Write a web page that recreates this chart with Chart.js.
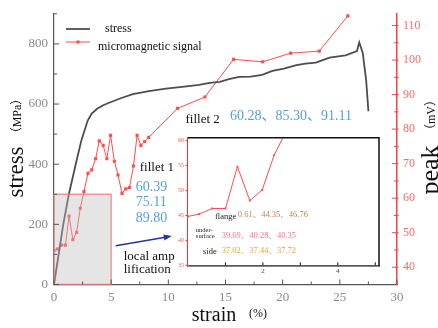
<!DOCTYPE html>
<html>
<head>
<meta charset="utf-8">
<script src="https://cdn.jsdelivr.net/npm/chart.js@4/dist/chart.umd.min.js"></script>
<style>
body{margin:0;background:#fff;}
#wrap{position:relative;width:438px;height:328px;}
#main{position:absolute;left:0;top:0;}
#inset{position:absolute;left:160px;top:128px;}
</style>
</head>
<body>
<div id="wrap">
<canvas id="main" width="438" height="328"></canvas>
<canvas id="inset" width="225" height="150"></canvas>
</div>
<script>
// stress-strain curve
const stressStrain = [0, 0.81, 1.3, 1.9, 2.4, 2.95, 3.3, 3.77, 4.3, 4.93, 5.9, 6.9, 8.3, 9.8, 11.2, 12.7, 13.6, 14.5, 15.3, 16.2, 17.2, 18.2, 19.1, 20.1, 21.2, 22.0, 22.9, 23.5, 24.1, 25.5, 26.5, 26.7, 27.0, 27.3, 27.5];
const stressMPa = [0, 200, 300, 400, 480, 545, 568, 584, 596, 606, 620, 633, 643, 651, 657, 664, 670, 674, 683, 690, 691, 697, 710, 718, 729, 734, 738, 746, 754, 762, 776, 805, 771, 680, 576];

// micromagnetic signal peak
const signalStrain = [0, 0.3, 0.65, 1.0, 1.32, 1.65, 1.98, 2.3, 2.62, 2.97, 3.3, 3.64, 3.96, 4.3, 4.62, 4.95, 5.28, 5.6, 5.95, 6.28, 6.6, 6.95, 7.27, 7.6, 7.93, 8.28, 10.8, 13.2, 15.7, 18.25, 20.7, 23.2, 25.7];
const signalPeak = [44.8, 45.3, 46.4, 46.4, 54.8, 48.0, 50.1, 57.1, 61.9, 67.2, 68.2, 71.4, 76.6, 75.3, 71.4, 78.2, 70.7, 66.7, 61.4, 62.7, 63.1, 69.3, 78.2, 75.3, 76.4, 77.6, 86.0, 89.3, 100.2, 99.5, 102.0, 102.6, 112.8];

const strainTicks = [0, 5, 10, 15, 20, 25, 30];
const strainMinor = [2.5, 7.5, 12.5, 17.5, 22.5, 27.5];
const stressTicks = [0, 200, 400, 600, 800];
const stressMinor = [100, 300, 500, 700, 900];
const peakTicks = [40, 50, 60, 70, 80, 90, 100, 110];
const peakMinor = [45, 55, 65, 75, 85, 95, 105];
const insetStrainTicks = [2, 4];
const insetStrainMarks = [1, 2, 3, 4, 5];
const insetPeakTicks = [35, 40, 45, 50, 55, 60];

const fillet1Values = ['60.39', '75.11', '89.80'];
const fillet2Values = '60.28、85.30、91.11';
const flangeValues = '0.61、44.35、46.76';
const underValues = '39.69、40.28、40.35';
const sideValues = '37.02、37.44、37.72';

const serif = "'Liberation Serif', 'Noto Sans CJK SC', serif";
const RED = '#ff4d4d';
const BLUE = '#559fdc';

function tickMarks(chart, id, values, len) {
  const s = chart.scales[id], a = chart.chartArea, ctx = chart.ctx;
  ctx.save();
  ctx.strokeStyle = s.options.border.color;
  ctx.lineWidth = 1;
  ctx.beginPath();
  values.forEach(v => {
    const p = s.getPixelForValue(v);
    if (s.isHorizontal()) { ctx.moveTo(p, a.bottom); ctx.lineTo(p, a.bottom - len); }
    else if (s.position === 'left') { ctx.moveTo(a.left, p); ctx.lineTo(a.left + len, p); }
    else { ctx.moveTo(a.right + 1.5, p); ctx.lineTo(a.right - len, p); }
  });
  ctx.stroke();
  ctx.restore();
}

function note(ctx, text, x, y, font, color, align) {
  ctx.font = font;
  ctx.fillStyle = color;
  ctx.textAlign = align || 'left';
  ctx.textBaseline = 'middle';
  ctx.fillText(text, x, y);
}

function vtext(ctx, text, x, y, font, color) {
  ctx.save();
  ctx.translate(x, y);
  ctx.rotate(-Math.PI / 2);
  ctx.font = font;
  ctx.fillStyle = color;
  ctx.textAlign = 'center';
  ctx.textBaseline = 'alphabetic';
  ctx.fillText(text, 0, 0);
  ctx.restore();
}

const mainDecor = {
  id: 'mainDecor',
  afterDatasetsDraw(chart) {
    const ctx = chart.ctx, x = chart.scales.x, y = chart.scales.y;
    // local amplification box
    const x0 = x.getPixelForValue(0), x1 = x.getPixelForValue(5);
    const y0 = y.getPixelForValue(0), y1 = y.getPixelForValue(300);
    ctx.save();
    ctx.fillStyle = 'rgba(190,190,190,0.4)';
    ctx.fillRect(x0, y1, x1 - x0, y0 - y1);
    ctx.strokeStyle = 'rgba(240,120,120,0.75)';
    ctx.lineWidth = 1.5;
    ctx.strokeRect(x0, y1, x1 - x0, y0 - y1);

    tickMarks(chart, 'x', strainTicks, 5);
    tickMarks(chart, 'x', strainMinor, 3);
    tickMarks(chart, 'y', stressTicks, 5);
    tickMarks(chart, 'y', stressMinor, 3);
    tickMarks(chart, 'y1', peakTicks, 5);
    tickMarks(chart, 'y1', peakMinor, 3);

    const big = '13px ' + serif, num = '14px ' + serif;
    note(ctx, 'fillet 2', x.getPixelForValue(11.5), y.getPixelForValue(549), big, '#111');
    note(ctx, fillet2Values, x.getPixelForValue(15.4), y.getPixelForValue(560), num, BLUE);
    note(ctx, 'fillet 1', x.getPixelForValue(7.5), y.getPixelForValue(390), big, '#111');
    [322, 272, 220].forEach((s, i) =>
      note(ctx, fillet1Values[i], x.getPixelForValue(7.15), y.getPixelForValue(s), num, BLUE));
    note(ctx, 'local amp', x.getPixelForValue(6.1), y.getPixelForValue(93), big, '#111');
    note(ctx, 'lification', x.getPixelForValue(6.1), y.getPixelForValue(49), big, '#111');

    // arrow towards inset
    const ax = x.getPixelForValue(5.4), ay = y.getPixelForValue(129);
    const bx = x.getPixelForValue(10.3), by = y.getPixelForValue(161);
    const ang = Math.atan2(by - ay, bx - ax);
    ctx.strokeStyle = '#2535a8';
    ctx.fillStyle = '#2535a8';
    ctx.lineWidth = 1.6;
    ctx.beginPath(); ctx.moveTo(ax, ay); ctx.lineTo(bx - 5 * Math.cos(ang), by - 5 * Math.sin(ang)); ctx.stroke();
    ctx.beginPath();
    ctx.moveTo(bx, by);
    ctx.lineTo(bx - 8 * Math.cos(ang) + 3 * Math.sin(ang), by - 8 * Math.sin(ang) - 3 * Math.cos(ang));
    ctx.lineTo(bx - 8 * Math.cos(ang) - 3 * Math.sin(ang), by - 8 * Math.sin(ang) + 3 * Math.cos(ang));
    ctx.closePath(); ctx.fill();

    // legend
    ctx.lineWidth = 1.8; ctx.strokeStyle = '#4d4d4d';
    ctx.beginPath(); ctx.moveTo(66, 29); ctx.lineTo(90, 29); ctx.stroke();
    note(ctx, 'stress', 105, 29, '12px ' + serif, '#111');
    ctx.lineWidth = 1; ctx.strokeStyle = RED; ctx.fillStyle = RED;
    ctx.beginPath(); ctx.moveTo(66, 42); ctx.lineTo(90, 42); ctx.stroke();
    ctx.fillRect(76.5, 40.5, 3, 3);
    note(ctx, 'micromagnetic signal', 98, 47, '12px ' + serif, '#111');
    ctx.restore();
  },
  afterDraw(chart) {
    const ctx = chart.ctx;
    vtext(ctx, 'stress', 23, 172, '23px ' + serif, '#111');
    vtext(ctx, '（MPa）', 21, 116, '12px ' + serif, '#111');
    vtext(ctx, 'peak', 438, 170, '26px ' + serif, '#111');
    vtext(ctx, '（mV）', 435, 115, '12px ' + serif, '#111');
    ctx.save();
    note(ctx, 'strain', 214, 316, '20px ' + serif, '#111', 'center');
    note(ctx, '(%)', 258, 314, '12px ' + serif, '#111', 'center');
    ctx.restore();
  }
};

new Chart(document.getElementById('main'), {
  type: 'line',
  data: {
    datasets: [
      {
        label: 'stress',
        data: stressStrain.map((v, i) => ({ x: v, y: stressMPa[i] })),
        yAxisID: 'y',
        borderColor: '#4d4d4d',
        borderWidth: 1.8,
        pointRadius: 0,
        tension: 0
      },
      {
        label: 'micromagnetic signal',
        data: signalStrain.map((v, i) => ({ x: v, y: signalPeak[i] })),
        yAxisID: 'y1',
        borderColor: RED,
        backgroundColor: RED,
        borderWidth: 1,
        pointStyle: 'rect',
        pointRadius: 2.2,
        pointBorderWidth: 0
      }
    ]
  },
  options: {
    responsive: false,
    animation: false,
    devicePixelRatio: 1,
    layout: { padding: { top: 7, right: 0, left: 0, bottom: 0 } },
    plugins: { legend: { display: false }, tooltip: { enabled: false } },
    scales: {
      x: {
        type: 'linear', min: 0, max: 30,
        afterBuildTicks: s => { s.ticks = strainTicks.map(v => ({ value: v })); },
        afterFit: s => { s.height = 43.5; },
        grid: { display: false, drawTicks: false },
        border: { color: '#555', width: 1.2 },
        ticks: { color: '#8a8a8a', font: { family: serif, size: 13 }, padding: 5, maxRotation: 0 }
      },
      y: {
        position: 'left', min: 0, max: 900,
        afterBuildTicks: s => { s.ticks = stressTicks.map(v => ({ value: v })); },
        afterFit: s => { s.width = 54; },
        grid: { display: false, drawTicks: false },
        border: { color: '#555', width: 1.2 },
        ticks: { color: '#8a8a8a', font: { family: serif, size: 13 }, padding: 6 }
      },
      y1: {
        position: 'right', min: 35, max: 113.4,
        afterBuildTicks: s => { s.ticks = peakTicks.map(v => ({ value: v })); },
        afterFit: s => { s.width = 41; },
        grid: { display: false, drawTicks: false },
        border: { color: '#ff4040', width: 1.5 },
        ticks: { color: '#ff6a6a', font: { family: serif, size: 12 }, padding: 6 }
      }
    }
  },
  plugins: [mainDecor]
});

const insetDecor = {
  id: 'insetDecor',
  beforeDatasetsDraw(chart) {
    const a = chart.chartArea, ctx = chart.ctx;
    ctx.save();
    ctx.fillStyle = '#fff';
    ctx.fillRect(a.left, a.top, a.right - a.left, a.bottom - a.top);
    ctx.restore();
  },
  afterDatasetsDraw(chart) {
    const a = chart.chartArea, ctx = chart.ctx, x = chart.scales.x, y = chart.scales.y;
    ctx.save();
    ctx.strokeStyle = '#111';
    ctx.lineWidth = 1.5;
    ctx.beginPath();
    ctx.moveTo(a.left, a.top); ctx.lineTo(a.right, a.top); ctx.lineTo(a.right, a.bottom);
    ctx.stroke();
    tickMarks(chart, 'x', insetStrainMarks, 3);
    // outward red ticks on the left axis
    ctx.strokeStyle = '#ff3030'; ctx.lineWidth = 1;
    ctx.beginPath();
    insetPeakTicks.forEach(v => { const p = y.getPixelForValue(v); ctx.moveTo(a.left, p); ctx.lineTo(a.left - 2.5, p); });
    ctx.stroke();

    const lab = '8.5px ' + serif, val = '8.5px ' + serif;
    note(ctx, 'flange', x.getPixelForValue(0.72), y.getPixelForValue(44.76), lab, '#222');
    note(ctx, flangeValues, x.getPixelForValue(1.33), y.getPixelForValue(45.1), val, '#bb8655');
    note(ctx, 'under-', x.getPixelForValue(0.21), y.getPixelForValue(42.1), '6.5px ' + serif, '#222');
    note(ctx, 'surface', x.getPixelForValue(0.21), y.getPixelForValue(40.76), '6.5px ' + serif, '#222');
    note(ctx, underValues, x.getPixelForValue(0.9), y.getPixelForValue(40.96), val, '#f2768a');
    note(ctx, 'side', x.getPixelForValue(0.4), y.getPixelForValue(37.76), lab, '#222');
    note(ctx, sideValues, x.getPixelForValue(0.9), y.getPixelForValue(37.84), val, '#f5a035');
    ctx.restore();
  }
};

new Chart(document.getElementById('inset'), {
  type: 'line',
  data: {
    datasets: [{
      data: signalStrain.map((v, i) => ({ x: v, y: signalPeak[i] })),
      borderColor: RED,
      backgroundColor: RED,
      borderWidth: 1,
      pointStyle: 'rect',
      pointRadius: 1.3,
      pointBorderWidth: 0
    }]
  },
  options: {
    responsive: false,
    animation: false,
    devicePixelRatio: 1,
    layout: { padding: { top: 9.7, right: 6, left: 0, bottom: 0 } },
    plugins: { legend: { display: false }, tooltip: { enabled: false } },
    scales: {
      x: {
        type: 'linear', min: 0, max: 5.1,
        afterBuildTicks: s => { s.ticks = insetStrainTicks.map(v => ({ value: v })); },
        afterFit: s => { s.height = 12.7; },
        grid: { display: false, drawTicks: false },
        border: { color: '#111', width: 1.5 },
        ticks: { color: '#444', font: { family: serif, size: 7 }, padding: 2, maxRotation: 0 }
      },
      y: {
        min: 35, max: 60.6,
        afterBuildTicks: s => { s.ticks = insetPeakTicks.map(v => ({ value: v })); },
        afterFit: s => { s.width = 28; },
        grid: { display: false, drawTicks: false },
        border: { color: '#ff3030', width: 1.5 },
        ticks: { color: '#ff5a5a', font: { family: serif, size: 6 }, padding: 4 }
      }
    }
  },
  plugins: [insetDecor]
});
</script>
</body>
</html>
